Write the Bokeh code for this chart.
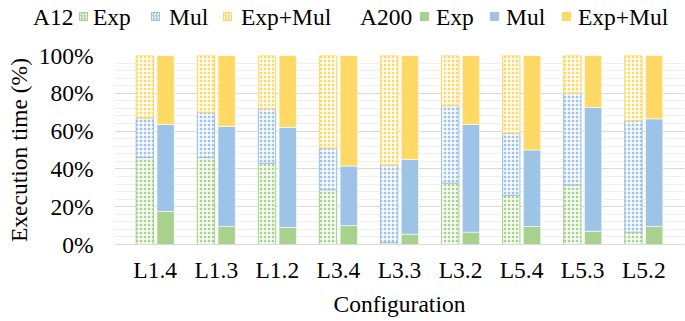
from bokeh.plotting import figure
from bokeh.layouts import column
from bokeh.models import (FactorRange, Range1d, Div,
                          PrintfTickFormatter, ColumnDataSource, SingleIntervalTicker)
from bokeh.transform import dodge
from bokeh.embed import file_html
from bokeh.resources import INLINE

configs = ["L1.4", "L1.3", "L1.2", "L3.4", "L3.3", "L3.2", "L5.4", "L5.3", "L5.2"]

# A12 segments (% of execution time)
a12_exp    = [46.0, 46.0, 43.0, 29.0,  1.0, 32.5, 26.0, 31.5,  6.5]
a12_mul    = [21.0, 24.0, 29.0, 22.0, 41.0, 41.0, 33.0, 48.5, 59.0]
a12_expmul = [33.0, 30.0, 28.0, 49.0, 58.0, 26.5, 41.0, 20.0, 34.5]

# A200 segments (% of execution time)
a200_exp    = [17.5,  9.5,  9.0, 10.0,  5.5,  6.5,  9.5,  7.0,  9.5]
a200_mul    = [46.0, 53.0, 53.0, 31.5, 39.5, 57.0, 40.5, 65.5, 57.0]
a200_expmul = [36.5, 37.5, 38.0, 58.5, 55.0, 36.5, 50.0, 27.5, 33.5]

series_labels = ["Exp", "Mul", "Exp+Mul"]
group_labels = ["A12", "A200"]
colors = ["#A9D18E", "#9DC3E6", "#FFD966"]
FONT = "Liberation Serif"
FS = "23.5px"

HATCH = dict(hatch_pattern="cross", hatch_color="white", hatch_scale=4, hatch_weight=1.5)

src = ColumnDataSource(dict(cfg=configs,
                            a12_exp=a12_exp, a12_mul=a12_mul, a12_expmul=a12_expmul,
                            a200_exp=a200_exp, a200_mul=a200_mul, a200_expmul=a200_expmul))

W = 685
LH = 40           # legend strip height
H = 281           # main chart height

# ---------------- main chart ----------------
p = figure(x_range=FactorRange(*configs, range_padding=1/6, range_padding_units="absolute"),
           y_range=Range1d(0, 100),
           width=W, height=H, output_backend="svg", toolbar_location=None,
           min_border_left=114, min_border_right=1, min_border_top=15, min_border_bottom=77)
p.outline_line_color = None

p.vbar_stack(["a12_exp", "a12_mul", "a12_expmul"],
             x=dodge("cfg", -0.17, range=p.x_range), width=0.284, source=src,
             fill_color=colors, line_color=colors, line_width=1, **HATCH)
p.vbar_stack(["a200_exp", "a200_mul", "a200_expmul"],
             x=dodge("cfg", 0.17, range=p.x_range), width=0.284, source=src,
             fill_color=colors, line_color="white", line_width=0.6)

p.yaxis.ticker = SingleIntervalTicker(interval=20, num_minor_ticks=5)
p.yaxis.formatter = PrintfTickFormatter(format="%d%%")
for ax in (p.xaxis, p.yaxis):
    ax.major_label_text_font = FONT
    ax.major_label_text_font_size = FS
    ax.major_label_text_color = "black"
    ax.axis_label_text_font = FONT
    ax.axis_label_text_font_size = FS
    ax.axis_label_text_font_style = "normal"
    ax.axis_label_text_color = "black"
    ax.major_tick_line_color = None
    ax.minor_tick_line_color = None
    ax.major_tick_out = 0
    ax.major_tick_in = 0
    ax.minor_tick_out = 0
    ax.minor_tick_in = 0
p.yaxis.axis_line_color = None
p.xaxis.axis_line_color = "#d9d9d9"
p.yaxis.major_label_standoff = 21
p.xaxis.major_label_standoff = 12
p.yaxis.axis_label = "Execution time (%)"
p.yaxis.axis_label_standoff = 4
p.xaxis.axis_label = "Configuration"
p.xaxis.axis_label_standoff = 5

p.xgrid.grid_line_color = None
p.ygrid.grid_line_color = "#d9d9d9"
p.ygrid.minor_grid_line_color = "#efefef"

# ---------------- legend strip (HTML) ----------------
group_x = [33, 360]
square_x = [[79, 151, 223], [420, 490, 562]]
label_x = [[93, 169, 241], [436, 506, 578]]

def span_text(txt, x):
    return (f'<span style="position:absolute;left:{x}px;top:6px;line-height:23.5px;'
            f'white-space:nowrap;">{txt}</span>')

def span_square(color, x, hatched):
    if hatched:
        bg = (f"background-image:repeating-conic-gradient({color} 0% 25%, #ffffff 0% 50%);"
              f"background-size:3px 3px;border:1px solid {color};box-sizing:border-box;")
    else:
        bg = f"background:{color};"
    return (f'<span style="position:absolute;left:{x}px;top:12px;width:9px;height:9px;'
            f'{bg}"></span>')

parts = []
for g, (gname, gx) in enumerate(zip(group_labels, group_x)):
    parts.append(span_text(gname, gx))
    for lab, c, sx, tx in zip(series_labels, colors, square_x[g], label_x[g]):
        parts.append(span_square(c, sx, hatched=(g == 0)))
        parts.append(span_text(lab, tx))

html = (f'<div style="position:relative;width:{W}px;height:{LH}px;'
        f'font-family:\'{FONT}\';font-size:{FS};color:black;">' + "".join(parts) + "</div>")
legend_div = Div(text=html, width=W, height=LH, margin=0)

layout = column(legend_div, p, spacing=0)
open("out.html", "w").write(file_html(layout, INLINE))
